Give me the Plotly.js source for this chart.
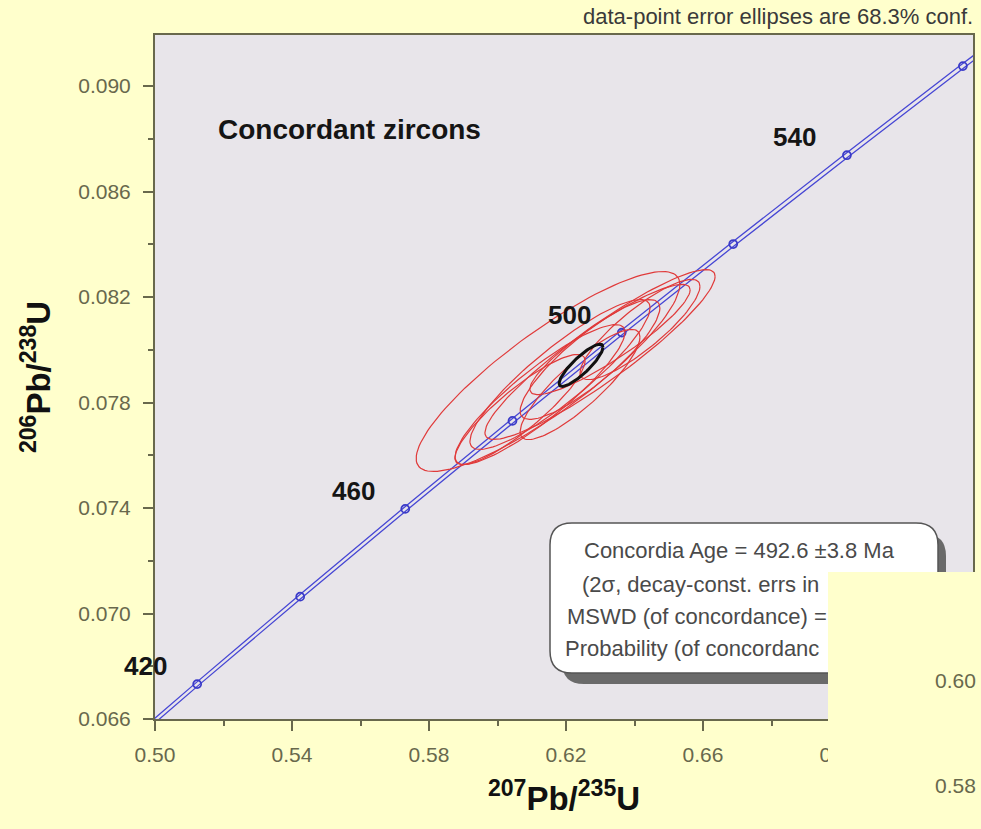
<!DOCTYPE html>
<html><head><meta charset="utf-8">
<script src="https://cdn.plot.ly/plotly-3.0.1.min.js"></script>
<style>html,body{margin:0;padding:0;background:#FFFFCC;}</style>
</head><body><div id="chart" style="width:981px;height:829px;"></div>
<script>
// Concordia curve (ages in Ma)
const ages = [400, 420, 440, 460, 480, 500, 520, 540, 560, 580];
const r207_235 = [0.48279, 0.51231, 0.54239, 0.57307, 0.60437, 0.63628, 0.66883, 0.70202, 0.73588, 0.77040];
const r206_238 = [0.064016, 0.067322, 0.070638, 0.073965, 0.077302, 0.080650, 0.084008, 0.087376, 0.090755, 0.094144];
const bandHalfWidth = [0.0008, 0.0008, 0.00083, 0.00086, 0.00089, 0.00092, 0.00095, 0.00098, 0.001, 0.00103];
const labelledAges = [420, 460, 500, 540];

// data-point error ellipses: centre, half-extents, correlation
const ellX   = [0.61475, 0.62993, 0.61825, 0.63285, 0.62701, 0.61241, 0.64161, 0.62409, 0.60657];
const ellY   = [0.079175, 0.079819, 0.079061, 0.080389, 0.079630, 0.078303, 0.080768, 0.078683, 0.077735];
const ellSx  = [0.0385, 0.0336, 0.0263, 0.0234, 0.0204, 0.0248, 0.0175, 0.0175, 0.0190];
const ellSy  = [0.00379, 0.00322, 0.00284, 0.00209, 0.00227, 0.00265, 0.0019, 0.00209, 0.00209];
const ellRho = [0.87, 0.92, 0.89, 0.90, 0.86, 0.89, 0.86, 0.86, 0.88];

// concordia age ellipse [x, y, sx, sy, rho]
const concordiaEllipse = [0.6244, 0.07941, 0.0064, 0.00080, 0.86];

const xTicks = [0.50, 0.54, 0.58, 0.62, 0.66, 0.70];
const yTicks = [0.066, 0.070, 0.074, 0.078, 0.082, 0.086, 0.090];
const infoLines = ["Concordia Age = 492.6 ±3.8 Ma", "(2σ, decay-const. errs in", "MSWD (of concordance) =", "Probability (of concordanc"];
const overlayTicks = ["0.60", "0.58"];

// ---- layout geometry ----
const W = 981, H = 829, ML = 155, MR = 8, MT = 35, MB = 110;
const PW = W - ML - MR, PH = H - MT - MB;
const fx = px => (px - ML) / PW;
const fy = py => 1 - (py - MT) / PH;
const FONT = 'Arial, "Liberation Sans", sans-serif';
const AXC = '#68684c';

function ellipse(cx, cy, sx, sy, rho) {
  const xs = [], ys = [];
  const s = Math.sqrt(1 - rho * rho);
  for (let i = 0; i <= 120; i++) {
    const t = 2 * Math.PI * i / 120;
    xs.push(cx + sx * Math.cos(t));
    ys.push(cy + sy * (rho * Math.cos(t) + s * Math.sin(t)));
  }
  return {xs, ys};
}

const traces = [];
// decay-constant envelope of concordia
traces.push({x: r207_235.map((v, i) => v - bandHalfWidth[i]), y: r206_238, mode: 'lines', line: {color: '#4646d4', width: 1.3, shape: 'spline'}, hoverinfo: 'skip'});
traces.push({x: r207_235.map((v, i) => v + bandHalfWidth[i]), y: r206_238, mode: 'lines', line: {color: '#4646d4', width: 1.3, shape: 'spline'}, hoverinfo: 'skip'});
// age markers
traces.push({x: r207_235, y: r206_238, mode: 'markers', marker: {symbol: 'circle-open', size: 8, color: '#3a3ac8', line: {width: 1.7, color: '#3a3ac8'}}, text: ages, hoverinfo: 'text'});
// data ellipses
for (let i = 0; i < ellX.length; i++) {
  const e = ellipse(ellX[i], ellY[i], ellSx[i], ellSy[i], ellRho[i]);
  traces.push({x: e.xs, y: e.ys, mode: 'lines', line: {color: '#e03a3a', width: 1.2}, hoverinfo: 'skip'});
}
// concordia age ellipse
{
  const c = concordiaEllipse;
  const e = ellipse(c[0], c[1], c[2], c[3], c[4]);
  traces.push({x: e.xs, y: e.ys, mode: 'lines', line: {color: '#111111', width: 3}, hoverinfo: 'skip'});
}

// rounded box path in paper coords
function roundRect(x0, y0, x1, y1, r) {
  const p = (x, y) => fx(x) + ',' + fy(y);
  return 'M' + p(x0 + r, y0) + ' L' + p(x1 - r, y0) + ' Q' + p(x1, y0) + ' ' + p(x1, y0 + r) +
    ' L' + p(x1, y1 - r) + ' Q' + p(x1, y1) + ' ' + p(x1 - r, y1) +
    ' L' + p(x0 + r, y1) + ' Q' + p(x0, y1) + ' ' + p(x0, y1 - r) +
    ' L' + p(x0, y0 + r) + ' Q' + p(x0, y0) + ' ' + p(x0 + r, y0) + ' Z';
}

const shapes = [
  {type: 'path', xref: 'paper', yref: 'paper', path: roundRect(562, 534, 946, 684, 22), fillcolor: '#6a6a6a', line: {width: 0}, layer: 'above'},
  {type: 'path', xref: 'paper', yref: 'paper', path: roundRect(550, 523, 938, 673, 22), fillcolor: '#ffffff', line: {color: '#555555', width: 1.5}, layer: 'above'}
];

const annotations = [];
annotations.push({xref: 'paper', yref: 'paper', x: fx(975), y: fy(16), xanchor: 'right', yanchor: 'middle', showarrow: false,
  text: 'data-point error ellipses are 68.3% conf.', font: {family: FONT, size: 22, color: '#3a3a3a'}});
annotations.push({xref: 'paper', yref: 'paper', x: fx(216), y: fy(130), xanchor: 'left', yanchor: 'middle', showarrow: false,
  text: '<b>Concordant zircons</b>', font: {family: FONT, size: 28, color: '#151515'}});
labelledAges.forEach(a => {
  const i = ages.indexOf(a);
  annotations.push({xref: 'x', yref: 'y', x: r207_235[i], y: r206_238[i], xshift: -52, yshift: 18, showarrow: false,
    text: '<b>' + a + '</b>', font: {family: FONT, size: 26, color: '#151515'}});
});
const lineX = [582, 580, 565, 563];
const lineY = [550, 584, 616, 648];
infoLines.forEach((t, i) => {
  annotations.push({xref: 'paper', yref: 'paper', x: fx(lineX[i]), y: fy(lineY[i]), xanchor: 'left', yanchor: 'middle', showarrow: false,
    text: t, font: {family: FONT, size: 22, color: '#4a4a4a'}});
});
// pasted yellow overlay in the lower right corner
annotations.push({xref: 'paper', yref: 'paper', x: fx(828), y: fy(572), xanchor: 'left', yanchor: 'top', showarrow: false,
  text: ' ', width: 160, height: 262, bgcolor: '#FFFFCC', borderpad: 0, borderwidth: 0});
overlayTicks.forEach((t, i) => {
  annotations.push({xref: 'paper', yref: 'paper', x: fx(978), y: fy([680, 786][i]), xanchor: 'right', yanchor: 'middle', showarrow: false,
    text: t, font: {family: FONT, size: 21, color: '#68684c'}});
});

const axisCommon = {
  showgrid: false, zeroline: false, showline: true, linewidth: 2, linecolor: AXC, mirror: true,
  ticks: 'outside', ticklen: 10, tickwidth: 2, tickcolor: AXC,
  tickfont: {family: FONT, size: 21, color: AXC},
};

const layout = {
  width: W, height: H,
  margin: {l: ML, r: MR, t: MT, b: MB, pad: 0},
  paper_bgcolor: '#FFFFCC', plot_bgcolor: '#E8E5EA',
  showlegend: false,
  xaxis: Object.assign({}, axisCommon, {
    range: [0.5, 0.5 + PW / 3425], tickvals: xTicks, ticktext: xTicks.map(v => v.toFixed(2)),
    minor: {tickvals: [0.52, 0.56, 0.60, 0.64, 0.68, 0.72], ticks: 'outside', ticklen: 5, tickwidth: 2, tickcolor: AXC},
    ticklabelstandoff: 6,
    title: {text: '<b><sup>207</sup>Pb/<sup>235</sup>U</b>', font: {family: FONT, size: 33, color: '#111'}, standoff: 22}
  }),
  yaxis: Object.assign({}, axisCommon, {
    range: [0.066, 0.066 + PH / 26375], tickvals: yTicks, ticktext: yTicks.map(v => v.toFixed(3)),
    minor: {tickvals: [0.068, 0.072, 0.076, 0.080, 0.084, 0.088], ticks: 'outside', ticklen: 5, tickwidth: 2, tickcolor: AXC},
    ticklabelstandoff: 8,
    title: {text: '<b><sup>206</sup>Pb/<sup>238</sup>U</b>', font: {family: FONT, size: 33, color: '#111'}, standoff: 18}
  }),
  shapes: shapes,
  annotations: annotations
};

Plotly.newPlot('chart', traces, layout, {staticPlot: true, displayModeBar: false});
</script>
</body></html>
